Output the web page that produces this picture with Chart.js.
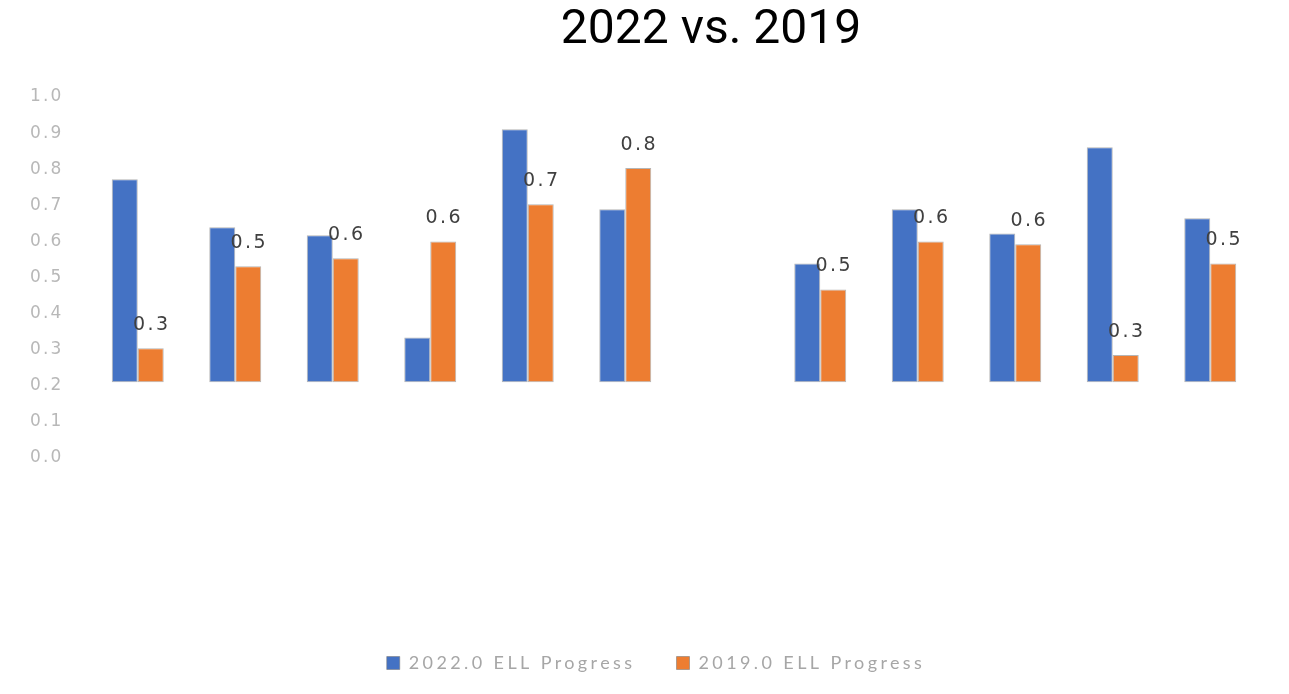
<!DOCTYPE html>
<html>
<head>
<meta charset="utf-8">
<title>2022 vs. 2019</title>
<script src="https://cdn.jsdelivr.net/npm/chart.js@4.4.1/dist/chart.umd.min.js"></script>
<style>
  html, body { margin: 0; padding: 0; background: #ffffff; }
  #wrap { width: 1289px; height: 694px; position: relative; }
</style>
</head>
<body>
<div id="wrap"><canvas id="ellChart"></canvas></div>
<script>
const chartTitle = "2022 vs. 2019";
const categories = ["1", "2", "3", "4", "5", "6", "7", "8", "9", "10", "11", "12"];
const progress2022 = [0.772, 0.639, 0.617, 0.334, 0.911, 0.689, null, 0.539, 0.689, 0.622, 0.861, 0.664];
const progress2019 = [0.304, 0.531, 0.553, 0.600, 0.703, 0.803, null, 0.467, 0.600, 0.592, 0.285, 0.539];
const seriesNames = ["2022.0 ELL Progress", "2019.0 ELL Progress"];
const axisBase = 0.21; // horizontal axis crosses here, bars start from it

// the source picture has wide, spread-out text
const spacingPlugin = {
  id: "spacing",
  afterInit(chart) {
    const lg = chart.legend;
    ["fit", "draw"].forEach((name) => {
      const orig = lg[name];
      lg[name] = function (...args) {
        const c = this.ctx;
        c.save();
        c.letterSpacing = "3.4px";
        const r = orig.apply(this, args);
        c.restore();
        return r;
      };
    });
  },
  beforeDraw(chart) { chart.ctx.letterSpacing = "2.1px"; }
};

const titlePlugin = {
  id: "bigTitle",
  afterDraw(chart) {
    const ctx = chart.ctx;
    ctx.save();
    ctx.letterSpacing = "0px";
    ctx.font = "48px Roboto";
    ctx.fillStyle = "#000000";
    ctx.textAlign = "center";
    ctx.textBaseline = "alphabetic";
    ctx.fillText(chartTitle, 711, 43);
    ctx.restore();
  }
};

const valueLabels = {
  id: "valueLabels",
  afterDatasetsDraw(chart) {
    const ctx = chart.ctx;
    const meta = chart.getDatasetMeta(1);
    ctx.save();
    ctx.letterSpacing = "2.4px";
    ctx.font = "19px 'DejaVu Sans'";
    ctx.fillStyle = "#404040";
    ctx.textAlign = "center";
    ctx.textBaseline = "middle";
    meta.data.forEach((bar, i) => {
      const v = progress2019[i];
      if (v === null) return;
      ctx.fillText(v.toFixed(1), bar.x + 1, bar.y - 23);
    });
    ctx.restore();
  }
};

const ctx = document.getElementById("ellChart").getContext("2d");
new Chart(ctx, {
  type: "bar",
  data: {
    labels: categories,
    datasets: [
      {
        label: seriesNames[0],
        data: progress2022,
        base: axisBase,
        backgroundColor: "#4472C4",
        borderColor: "rgba(120,120,120,0.55)",
        borderWidth: 1,
        borderSkipped: false
      },
      {
        label: seriesNames[1],
        data: progress2019,
        base: axisBase,
        backgroundColor: "#ED7D31",
        borderColor: "rgba(120,120,120,0.55)",
        borderWidth: 1,
        borderSkipped: false
      }
    ]
  },
  options: {
    responsive: true,
    maintainAspectRatio: false,
    animation: false,
    layout: { padding: { left: 53, right: 30, top: 97, bottom: 12 } },
    datasets: {
      bar: { barPercentage: 1.0, categoryPercentage: 0.533 }
    },
    plugins: {
      title: { display: false },
      tooltip: { enabled: false },
      legend: {
        display: true,
        position: "bottom",
        labels: {
          boxWidth: 13,
          boxHeight: 13,
          padding: 41,
          color: "#a6a6a6",
          font: { family: "Lato", size: 18 }
        }
      }
    },
    scales: {
      x: {
        grid: { display: false },
        border: { display: false },
        ticks: { display: false },
        afterFit(scale) { scale.height = 155; }
      },
      y: {
        min: 0,
        max: 1,
        grid: { display: false, drawTicks: false },
        border: { display: false },
        ticks: {
          stepSize: 0.1,
          mirror: true,
          padding: -59,
          color: "#b8b8b8",
          font: { family: "DejaVu Sans", size: 17 },
          callback: (v) => Number(v).toFixed(1)
        },
        afterFit(scale) { scale.width = 36; }
      }
    }
  },
  plugins: [spacingPlugin, titlePlugin, valueLabels]
});
</script>
</body>
</html>
